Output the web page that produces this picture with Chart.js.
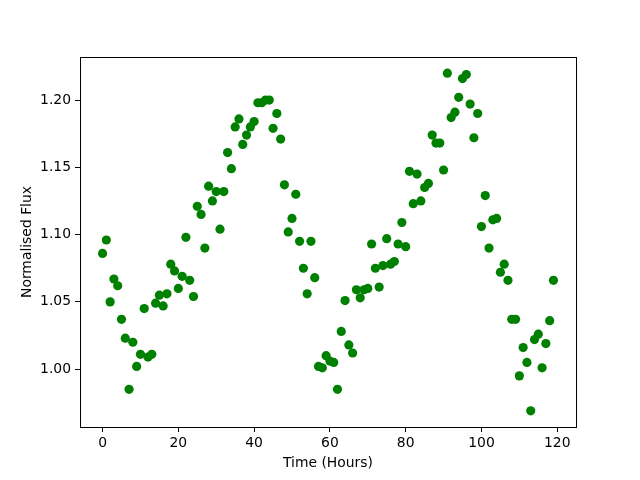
<!DOCTYPE html>
<html>
<head>
<meta charset="utf-8">
<script src="https://cdn.jsdelivr.net/npm/chart.js@4.4.1/dist/chart.umd.min.js"></script>
<style>
  html, body { margin: 0; padding: 0; background: #fff; }
  canvas { display: block; }
</style>
</head>
<body>
<canvas id="grafico" width="640" height="480"></canvas>
<script>
const horas = Array.from({ length: 120 }, (_, i) => i);
const fluxo = [
  1.086, 1.096, 1.050, 1.067, 1.062, 1.037, 1.023, 0.985, 1.020, 1.002,
  1.011, 1.045, 1.009, 1.011, 1.049, 1.055, 1.047, 1.056, 1.078, 1.073,
  1.060, 1.069, 1.098, 1.066, 1.054, 1.121, 1.115, 1.090, 1.136, 1.125,
  1.132, 1.104, 1.132, 1.161, 1.149, 1.180, 1.186, 1.167, 1.174, 1.180,
  1.184, 1.198, 1.198, 1.200, 1.200, 1.179, 1.190, 1.171, 1.137, 1.102,
  1.112, 1.130, 1.095, 1.075, 1.056, 1.095, 1.068, 1.002, 1.001, 1.010,
  1.006, 1.005, 0.985, 1.028, 1.051, 1.018, 1.012, 1.059, 1.053, 1.059,
  1.060, 1.093, 1.075, 1.061, 1.077, 1.097, 1.078, 1.080, 1.093, 1.109,
  1.091, 1.147, 1.123, 1.145, 1.125, 1.135, 1.138, 1.174, 1.168, 1.168,
  1.148, 1.220, 1.187, 1.191, 1.202, 1.216, 1.219, 1.197, 1.172, 1.190,
  1.106, 1.129, 1.090, 1.111, 1.112, 1.072, 1.078, 1.066, 1.037, 1.037,
  0.995, 1.016, 1.005, 0.969, 1.022, 1.026, 1.001, 1.019, 1.036, 1.066
];
const ticksX = [0, 20, 40, 60, 80, 100, 120];
const ticksY = [1.00, 1.05, 1.10, 1.15, 1.20];

const fonte = { family: 'DejaVu Sans', size: 13.9 };

// Moldura completa em volta da área do gráfico
const moldura = {
  id: 'moldura',
  afterDraw(chart) {
    const { ctx, chartArea: a } = chart;
    ctx.save();
    ctx.strokeStyle = '#000';
    ctx.lineWidth = 1;
    ctx.strokeRect(a.left + 0.5, a.top + 0.5, a.right - a.left, a.bottom - a.top);
    ctx.restore();
  }
};

const ctx = document.getElementById('grafico').getContext('2d');
new Chart(ctx, {
  type: 'scatter',
  data: {
    datasets: [{
      label: 'Fluxo',
      data: horas.map((h, i) => ({ x: h, y: fluxo[i] })),
      backgroundColor: '#008000',
      borderWidth: 0,
      pointRadius: 4.6,
      pointHoverRadius: 4.6
    }]
  },
  options: {
    responsive: false,
    animation: false,
    devicePixelRatio: 1,
    layout: { padding: { top: 57, right: 64, left: 0, bottom: 0 } },
    plugins: { legend: { display: false }, tooltip: { enabled: false } },
    scales: {
      x: {
        type: 'linear',
        min: -5.95,
        max: 124.95,
        afterBuildTicks: s => { s.ticks = ticksX.map(v => ({ value: v })); },
        afterFit: s => { s.height = 53; },
        grid: { drawOnChartArea: false, tickLength: 5, tickColor: '#000', color: '#000' },
        border: { display: false },
        ticks: { color: '#000', font: fonte, padding: 3, maxRotation: 0 },
        title: { display: true, text: 'Time (Hours)', color: '#000', font: fonte, padding: { bottom: 8 } }
      },
      y: {
        min: 0.957,
        max: 1.232,
        afterBuildTicks: s => { s.ticks = ticksY.map(v => ({ value: v })); },
        afterFit: s => { s.width = 80; },
        grid: { drawOnChartArea: false, tickLength: 5, tickColor: '#000', color: '#000' },
        border: { display: false },
        ticks: { color: '#000', font: fonte, padding: 4, callback: v => v.toFixed(2) },
        title: { display: true, text: 'Normalised Flux', color: '#000', font: fonte, padding: { top: 19 } }
      }
    }
  },
  plugins: [moldura]
});
</script>
</body>
</html>
